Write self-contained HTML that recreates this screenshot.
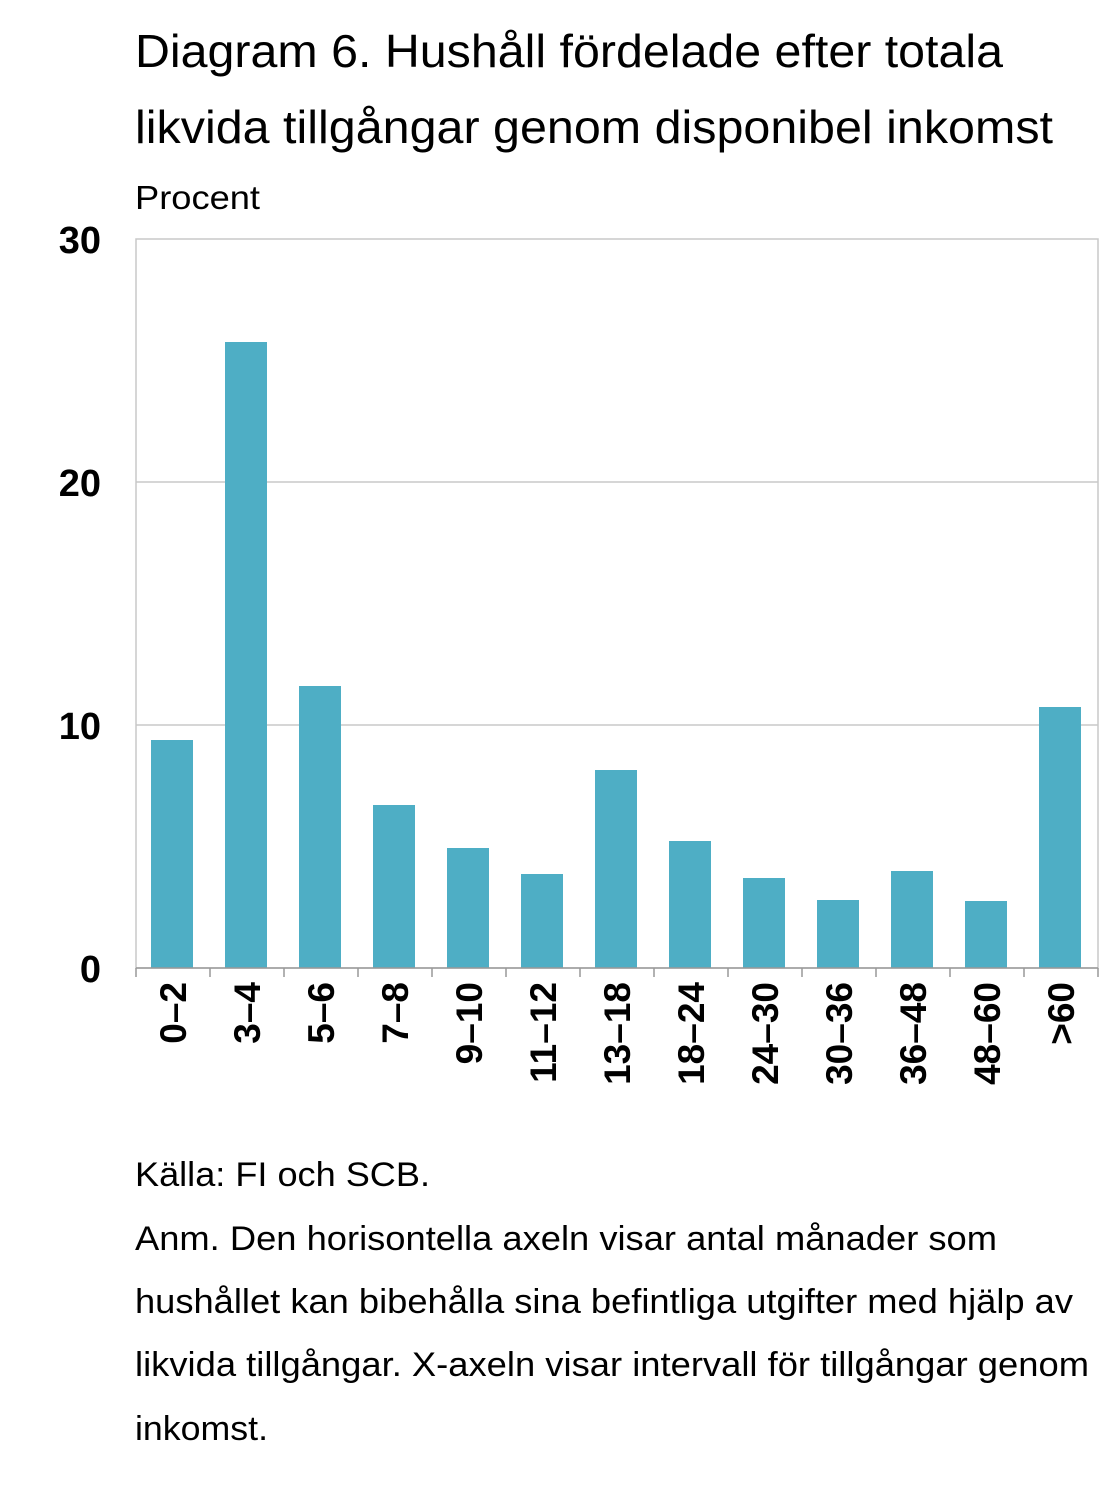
<!DOCTYPE html>
<html><head><meta charset="utf-8"><style>
body{margin:0;background:#fff;}
svg{display:block;font-family:"Liberation Sans",sans-serif;}
</style></head><body>
<svg width="1116" height="1490" viewBox="0 0 1116 1490">
<text x="135" y="67" font-size="46" fill="#000" textLength="868" lengthAdjust="spacingAndGlyphs">Diagram 6. Hushåll fördelade efter totala</text>
<text x="135" y="143" font-size="46" fill="#000" textLength="918" lengthAdjust="spacingAndGlyphs">likvida tillgångar genom disponibel inkomst</text>
<text x="135" y="209" font-size="33" fill="#000" textLength="125" lengthAdjust="spacingAndGlyphs">Procent</text>
<rect x="136" y="239" width="962" height="729" fill="none" stroke="#c8c8c8" stroke-width="1.5"/>
<line x1="136" y1="482" x2="1098" y2="482" stroke="#c8c8c8" stroke-width="1.5"/>
<line x1="136" y1="725" x2="1098" y2="725" stroke="#c8c8c8" stroke-width="1.5"/>
<g font-size="38" font-weight="bold" text-anchor="end">
<text x="101" y="253">30</text><text x="101" y="496">20</text><text x="101" y="739">10</text><text x="101" y="982">0</text>
</g>
<g fill="#4eaec5">
<rect x="151" y="740" width="42" height="228"/>
<rect x="225" y="342" width="42" height="626"/>
<rect x="299" y="686" width="42" height="282"/>
<rect x="373" y="805" width="42" height="163"/>
<rect x="447" y="848" width="42" height="120"/>
<rect x="521" y="874" width="42" height="94"/>
<rect x="595" y="770" width="42" height="198"/>
<rect x="669" y="841" width="42" height="127"/>
<rect x="743" y="878" width="42" height="90"/>
<rect x="817" y="900" width="42" height="68"/>
<rect x="891" y="871" width="42" height="97"/>
<rect x="965" y="901" width="42" height="67"/>
<rect x="1039" y="707" width="42" height="261"/>
</g>
<line x1="136" y1="968" x2="1098" y2="968" stroke="#999" stroke-width="1.5"/>
<g stroke="#999" stroke-width="1.5">
<line x1="136" y1="968" x2="136" y2="977"/><line x1="210" y1="968" x2="210" y2="977"/><line x1="284" y1="968" x2="284" y2="977"/><line x1="358" y1="968" x2="358" y2="977"/><line x1="432" y1="968" x2="432" y2="977"/><line x1="506" y1="968" x2="506" y2="977"/><line x1="580" y1="968" x2="580" y2="977"/><line x1="654" y1="968" x2="654" y2="977"/><line x1="728" y1="968" x2="728" y2="977"/><line x1="802" y1="968" x2="802" y2="977"/><line x1="876" y1="968" x2="876" y2="977"/><line x1="950" y1="968" x2="950" y2="977"/><line x1="1024" y1="968" x2="1024" y2="977"/><line x1="1098" y1="968" x2="1098" y2="977"/>
</g>
<g font-size="37" font-weight="bold" text-anchor="end">
<text transform="translate(186,982) rotate(-90)">0–2</text>
<text transform="translate(260,982) rotate(-90)">3–4</text>
<text transform="translate(334,982) rotate(-90)">5–6</text>
<text transform="translate(408,982) rotate(-90)">7–8</text>
<text transform="translate(482,982) rotate(-90)">9–10</text>
<text transform="translate(556,982) rotate(-90)">11–12</text>
<text transform="translate(630,982) rotate(-90)">13–18</text>
<text transform="translate(704,982) rotate(-90)">18–24</text>
<text transform="translate(778,982) rotate(-90)">24–30</text>
<text transform="translate(852,982) rotate(-90)">30–36</text>
<text transform="translate(926,982) rotate(-90)">36–48</text>
<text transform="translate(1000,982) rotate(-90)">48–60</text>
<text transform="translate(1074,982) rotate(-90)">&gt;60</text>
</g>
<g font-size="34" fill="#000" lengthAdjust="spacingAndGlyphs">
<text x="135" y="1186" textLength="295" lengthAdjust="spacingAndGlyphs">Källa: FI och SCB.</text>
<text x="135" y="1250" textLength="862" lengthAdjust="spacingAndGlyphs">Anm. Den horisontella axeln visar antal månader som</text>
<text x="135" y="1313" textLength="938" lengthAdjust="spacingAndGlyphs">hushållet kan bibehålla sina befintliga utgifter med hjälp av</text>
<text x="135" y="1376" textLength="954" lengthAdjust="spacingAndGlyphs">likvida tillgångar. X-axeln visar intervall för tillgångar genom</text>
<text x="135" y="1440" textLength="133" lengthAdjust="spacingAndGlyphs">inkomst.</text>
</g>
</svg>
</body></html>
